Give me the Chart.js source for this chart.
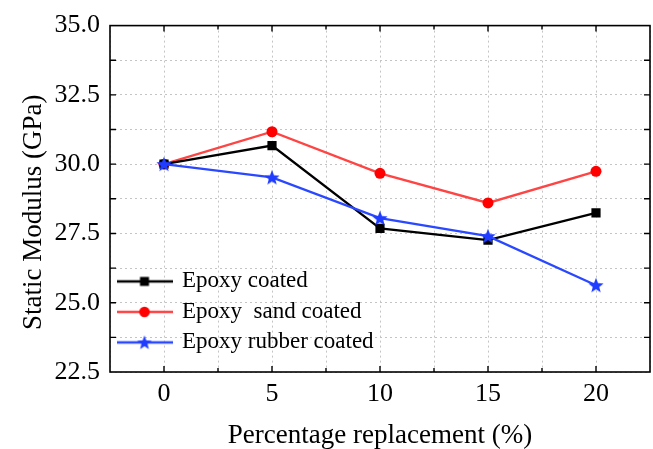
<!DOCTYPE html>
<html>
<head>
<meta charset="utf-8">
<script src="https://cdn.jsdelivr.net/npm/chart.js@4.4.1/dist/chart.umd.min.js"></script>
<style>
  html, body { margin: 0; padding: 0; background: #fff; overflow: hidden; }
  #wrap { width: 653px; height: 449px; position: relative; }
</style>
</head>
<body>
<div id="wrap"><canvas id="myChart"></canvas></div>
<script>
// replacement level (%) and static modulus (GPa) per coating type
const replacement = [0, 5, 10, 15, 20];
const epoxyCoated = [30.0, 30.67, 27.68, 27.26, 28.24];
const epoxySandCoated = [30.0, 31.17, 29.67, 28.6, 29.74];
const epoxyRubberCoated = [30.0, 29.52, 28.05, 27.4, 25.63];
const seriesNames = ['Epoxy coated', 'Epoxy  sand coated', 'Epoxy rubber coated'];
const yTicks = [22.5, 25.0, 27.5, 30.0, 32.5, 35.0];
const xTicks = [0, 5, 10, 15, 20];

const FONT = "'Liberation Serif', 'Times New Roman', serif";

function starPath(ctx, cx, cy, rOut, rIn) {
    ctx.beginPath();
    for (let i = 0; i < 10; i++) {
        const r = i % 2 === 0 ? rOut : rIn;
        const a = -Math.PI / 2 + i * Math.PI / 5;
        const px = cx + r * Math.cos(a), py = cy + r * Math.sin(a);
        if (i === 0) ctx.moveTo(px, py); else ctx.lineTo(px, py);
    }
    ctx.closePath();
}

function starImage(color) {
    const c = document.createElement('canvas');
    c.width = 18; c.height = 18;
    const g = c.getContext('2d');
    starPath(g, 9, 9.6, 8, 3.4);
    g.fillStyle = color;
    g.fill();
    return c;
}

// legend swatch: short line with the marker in the middle
function legendSwatch(lineColor, markColor, kind) {
    const c = document.createElement('canvas');
    c.width = 56; c.height = 18;
    const g = c.getContext('2d');
    g.strokeStyle = lineColor;
    g.lineWidth = 2.4;
    g.beginPath(); g.moveTo(0, 9); g.lineTo(56, 9); g.stroke();
    g.fillStyle = markColor;
    if (kind === 'rect') {
        g.fillRect(28 - 4.5, 9 - 4.5, 9, 9);
    } else if (kind === 'circle') {
        g.beginPath(); g.arc(28, 9, 5.3, 0, Math.PI * 2); g.fill();
    } else {
        starPath(g, 28, 9.6, 7.5, 3.2); g.fill();
    }
    return c;
}

const swatches = [
    legendSwatch('#000000', '#000000', 'rect'),
    legendSwatch('#ff4444', '#ff0000', 'circle'),
    legendSwatch('#2a48ff', '#1f3cff', 'star')
];

// frame around the plot with inward tick marks on all four sides
const framePlugin = {
    id: 'frame',
    afterLayout(chart) {
        // nudge the legend block into the lower-left corner of the plot
        const lg = chart.legend;
        lg.top += 15; lg.bottom += 15;
        lg.left += 1; lg.right += 1;
    },
    afterDatasetsDraw(chart) {
        const { ctx, chartArea: a, scales } = chart;
        ctx.save();
        ctx.strokeStyle = '#000';
        ctx.lineWidth = 1.6;
        ctx.strokeRect(a.left, a.top, a.right - a.left, a.bottom - a.top);
        ctx.lineWidth = 1.4;
        ctx.beginPath();
        scales.x.ticks.forEach(t => {
            const px = scales.x.getPixelForValue(t.value);
            if (px <= a.left + 1 || px >= a.right - 1) return;
            const len = t.value % 5 === 0 ? 6 : 4;
            ctx.moveTo(px, a.bottom); ctx.lineTo(px, a.bottom - len);
            ctx.moveTo(px, a.top); ctx.lineTo(px, a.top + len);
        });
        scales.y.ticks.forEach(t => {
            const py = scales.y.getPixelForValue(t.value);
            if (py <= a.top + 1 || py >= a.bottom - 1) return;
            ctx.moveTo(a.left, py); ctx.lineTo(a.left + 6, py);
            ctx.moveTo(a.right, py); ctx.lineTo(a.right - 6, py);
        });
        ctx.stroke();
        ctx.restore();
    }
};

const ctx = document.getElementById('myChart');
new Chart(ctx, {
    type: 'line',
    data: {
        datasets: [
            {
                label: seriesNames[0],
                data: replacement.map((x, i) => ({ x: x, y: epoxyCoated[i] })),
                borderColor: '#000000',
                backgroundColor: '#000000',
                pointStyle: 'rect',
                pointRadius: 6.5,
                pointBorderWidth: 0,
                borderWidth: 2.3,
                order: 1
            },
            {
                label: seriesNames[1],
                data: replacement.map((x, i) => ({ x: x, y: epoxySandCoated[i] })),
                borderColor: '#ff4444',
                backgroundColor: '#ff0000',
                pointBorderColor: '#ff0000',
                pointStyle: 'circle',
                pointRadius: 5.5,
                pointBorderWidth: 0,
                borderWidth: 2.3,
                order: 2
            },
            {
                label: seriesNames[2],
                data: replacement.map((x, i) => ({ x: x, y: epoxyRubberCoated[i] })),
                borderColor: '#2a48ff',
                backgroundColor: '#1f3cff',
                pointStyle: starImage('#1f3cff'),
                borderWidth: 2.3,
                order: 0
            }
        ]
    },
    options: {
        responsive: true,
        maintainAspectRatio: false,
        animation: false,
        layout: { autoPadding: false, padding: { left: 0, top: 24, right: 3, bottom: 0 } },
        scales: {
            x: {
                type: 'linear',
                min: -2.5,
                max: 22.5,
                // the tick padding would otherwise also widen the right margin
                afterFit: (s) => { s.height = 77; s.paddingLeft = 0; s.paddingRight = 0; },
                ticks: {
                    stepSize: 2.5,
                    padding: 7,
                    color: '#000',
                    font: { family: FONT, size: 26 },
                    maxRotation: 0,
                    autoSkip: false,
                    callback: (v) => xTicks.includes(v) ? String(v) : ''
                },
                grid: { color: '#c4c4c4', lineWidth: 1, drawTicks: false },
                border: { display: false, dash: [2, 3] },
                title: {
                    display: true,
                    text: 'Percentage replacement (%)',
                    color: '#000',
                    font: { family: FONT, size: 27, lineHeight: 1 },
                    padding: { top: 0, bottom: 0 }
                }
            },
            y: {
                min: 22.5,
                max: 35,
                afterFit: (s) => { s.width = 110; },
                ticks: {
                    stepSize: 1.25,
                    padding: 10,
                    color: '#000',
                    font: { family: FONT, size: 26 },
                    autoSkip: false,
                    callback: (v) => yTicks.some(t => Math.abs(t - v) < 1e-6) ? v.toFixed(1) : ''
                },
                grid: { color: '#c4c4c4', lineWidth: 1, drawTicks: false },
                border: { display: false, dash: [2, 3] },
                title: {
                    display: true,
                    text: 'Static Modulus (GPa)    ',
                    color: '#000',
                    font: { family: FONT, size: 27, lineHeight: 1 },
                    padding: { top: 20, bottom: 0 }
                }
            }
        },
        plugins: {
            tooltip: { enabled: false },
            legend: {
                position: 'chartArea',
                align: 'end',
                labels: {
                    usePointStyle: true,
                    pointStyleWidth: 52,
                    padding: 7.5,
                    color: '#000',
                    font: { family: FONT, size: 23 },
                    sort: (a, b) => a.datasetIndex - b.datasetIndex,
                    generateLabels: (chart) => chart.data.datasets.map((ds, i) => ({
                        text: ds.label,
                        datasetIndex: i,
                        pointStyle: swatches[i],
                        fillStyle: 'transparent',
                        strokeStyle: 'transparent',
                        lineWidth: 0,
                        hidden: false
                    }))
                }
            }
        }
    },
    plugins: [framePlugin]
});
</script>
</body>
</html>
